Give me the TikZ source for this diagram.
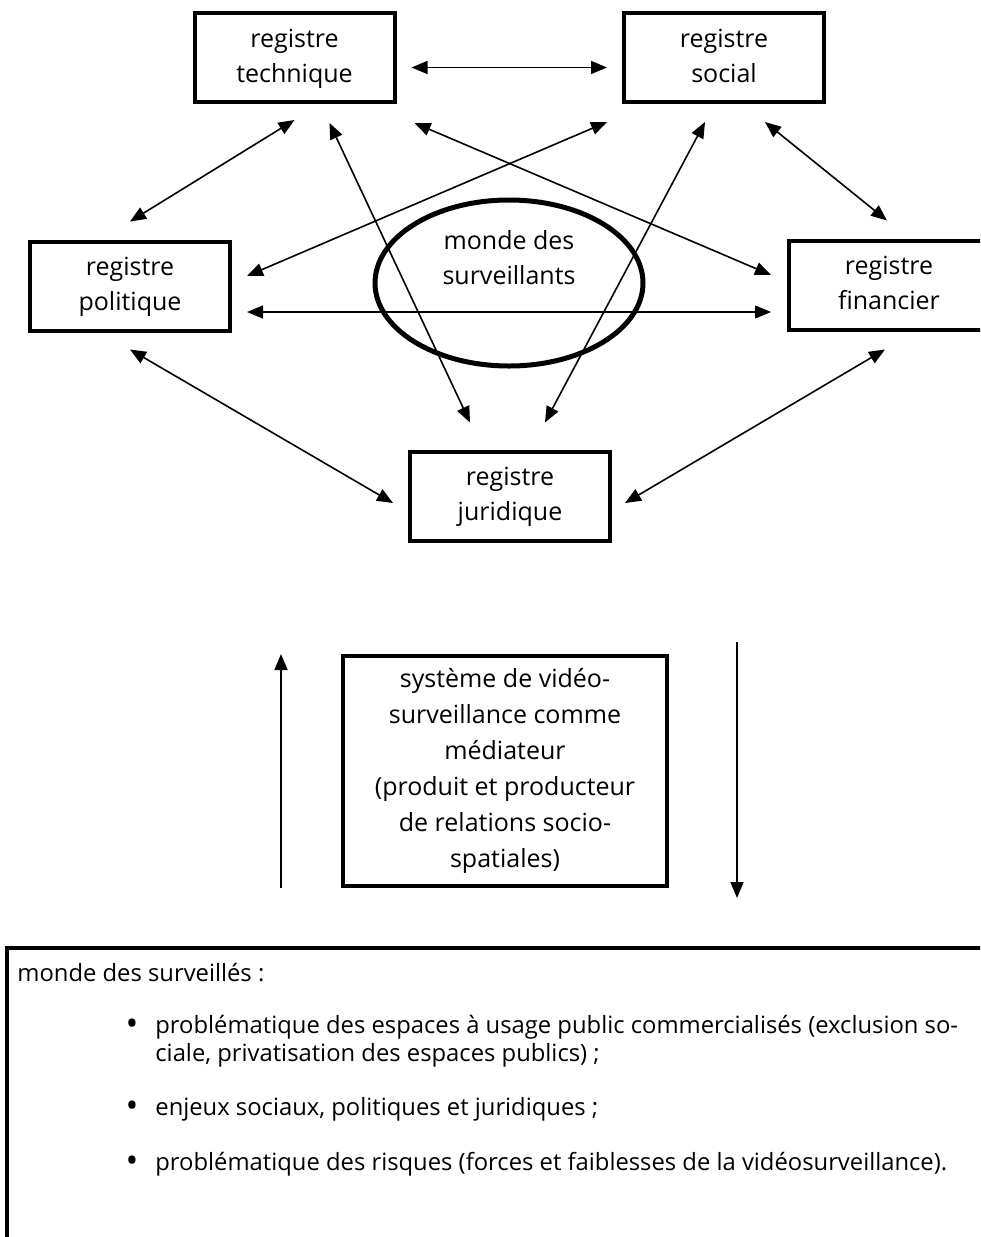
\documentclass[tikz,border=0pt]{standalone}
\usepackage{fontspec}
\setmainfont{Open Sans}
\usetikzlibrary{shapes,arrows.meta,positioning,calc}

\begin{document}
\begin{tikzpicture}[
    x=0.5pt, y=-0.5pt,
    % Block styles
    registre/.style={
        rectangle,
        draw,
        line width=2pt,
        minimum height=44.5pt,
        minimum width=100pt,
        text depth=2pt,
        align=center,
        font=\fontsize{12.5}{17.5}\selectfont
    },
    mediateur/.style={
        rectangle,
        draw,
        line width=2pt,
        minimum height=115pt,
        minimum width=162pt,
        align=center,
        font=\fontsize{12.5}{18}\selectfont
    },
    monde/.style={
        ellipse,
        draw,
        line width=2.5pt,
        minimum height=83pt,
        minimum width=134pt
    },
    cadre/.style={
        rectangle,
        draw,
        line width=2pt,
        minimum height=160pt,
        minimum width=500pt
    },
    texte/.style={
        inner sep=0pt,
        align=left,
        font=\fontsize{11.9}{14}\selectfont
    },
    biline/.style={draw, line width=0.8pt, {Triangle[length=8pt,width=6.5pt]}-{Triangle[length=8pt,width=6.5pt]}},
    line/.style={draw, line width=0.8pt, -{Triangle[length=8pt,width=6.5pt]}}
]
\clip (0,0) rectangle (980,1237);

% Registres
\node[registre] (tech) at (294.5,57.5) {registre\\technique};
\node[registre] (social) at (724,57.5) {registre\\social};
\node[registre] (politique) at (130,286) {registre\\politique};
\node[registre] (financier) at (889,285) {registre\\financier};
\node[registre] (juridique) at (510,496) {registre\\juridique};

% Monde des surveillants
\node[monde] (surveillants) at (509,283) {};
\node[align=center, font=\fontsize{12.5}{17.5}\selectfont] (surveillants_txt) at ([yshift=12.5pt]surveillants.center) {monde des\\surveillants};

% Connections
\draw[biline] ($(tech.east)+(15,10)$) -- ($(social.west)+(-15,10)$);
\draw[biline] ($(tech.south)+(0,16)$) -- ($(politique.north)+(0,-18)$);
\draw[biline] ($(tech.south)+(35,19)$) -- ($(juridique.north)+(-40,-27)$);
\draw[biline] ($(tech.south east)+(18,19)$) -- ($(financier.west)+(-16,-10)$);
\draw[biline] ($(social.south west)+(-15,18)$) -- ($(politique.east)+(15,-10)$);
\draw[biline] ($(social.south)+(-19,18)$) -- ($(juridique.north)+(35,-27)$);
\draw[biline] ($(social.south)+(41,18)$) -- ($(financier.north)+(-2,-18)$);
\draw[biline] ($(politique.east)+(15,26)$) -- ($(financier.west)+(-16,27)$);
\draw[biline] ($(politique.south)+(0,17)$) -- ($(juridique.west)+(-15,7)$);
\draw[biline] ($(financier.south)+(-4,18)$) -- ($(juridique.east)+(13,7)$);

% Systeme mediateur
\node[mediateur] (systeme) at (505,771) {syst\`eme de vid\'eo-\\surveillance comme\\m\'ediateur\\(produit et producteur\\de relations socio-\\spatiales)};

\draw[line] ($(systeme.south west)+(-60,0)$) -- ($(systeme.north west)+(-60,0)$);
\draw[line] ($(systeme.north east)+(68,-12)$) -- ($(systeme.south east)+(68,10)$);

% Monde des surveilles
\node[cadre, anchor=north west] (surveilles) at (5,946) {};
\node[texte, anchor=west] (titre) at (17,973) {monde des surveill\'es :};
\node[texte, font=\fontsize{17}{17}\selectfont] (puce1) at (132,1027) {\textbullet};
\node[texte, anchor=west] (item1) at (155,1041) {probl\'ematique des espaces \`a usage public commercialis\'es (exclusion so-\\ciale, privatisation des espaces publics) ;};
\node[texte, font=\fontsize{17}{17}\selectfont] (puce2) at (132,1109) {\textbullet};
\node[texte, anchor=west] (item2) at (155,1109) {enjeux sociaux, politiques et juridiques ;};
\node[texte, font=\fontsize{17}{17}\selectfont] (puce3) at (132,1164) {\textbullet};
\node[texte, anchor=west] (item3) at (155,1164) {probl\'ematique des risques (forces et faiblesses de la vid\'eosurveillance).};

\end{tikzpicture}
\end{document}
